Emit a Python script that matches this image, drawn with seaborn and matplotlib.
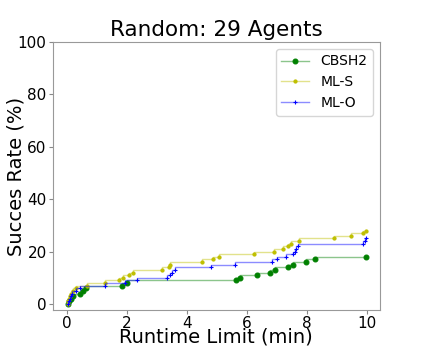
import matplotlib
matplotlib.use('Agg')
from matplotlib import pyplot as plt
import seaborn as sns

# runtime (min) at which each success happened, and success rate (%) reached
cbsh2_t = [0.02, 0.08, 0.15, 0.2, 0.45, 0.55, 0.65, 1.82, 2.0, 5.62, 5.78, 6.33,
           6.77, 6.92, 7.36, 7.54, 7.97, 8.28, 9.96]
cbsh2_v = [0, 1, 2, 3, 4, 5, 6, 7, 8, 9, 10, 11, 12, 13, 14, 15, 16, 17, 18]

mls_t = [0.02, 0.04, 0.07, 0.1, 0.14, 0.2, 0.3, 0.66, 1.27, 1.73, 1.88, 2.07, 2.21,
         3.16, 3.39, 3.42, 4.51, 4.88, 5.07, 6.24, 6.9, 7.2, 7.36, 7.46, 7.73,
         8.9, 9.46, 9.88, 9.96]
mls_v = [0, 1, 2, 3, 4, 5, 6, 7, 8, 9, 10, 11, 12, 13, 14, 15, 16, 17, 18, 19, 20,
         21, 22, 23, 24, 25, 26, 27, 28]

mlo_t = [0.02, 0.06, 0.1, 0.14, 0.18, 0.3, 0.45, 1.27, 1.93, 2.32, 3.32, 3.43, 3.5,
         3.6, 4.79, 5.6, 6.82, 7.01, 7.3, 7.52, 7.6, 7.65, 7.7, 9.88, 9.92, 9.96]
mlo_v = [0, 1, 2, 3, 4, 5, 6, 7, 8, 9, 10, 11, 12, 13, 14, 15, 16, 17, 18, 19, 20,
         21, 22, 23, 24, 25]

series = [
    ('CBSH2', cbsh2_t, cbsh2_v, (0, 0.5, 0), 'o', 3.5),
    ('ML-S', mls_t, mls_v, (0.75, 0.75, 0), '.', 4.5),
    ('ML-O', mlo_t, mlo_v, (0, 0, 1), '+', 3),
]

fig = plt.figure(figsize=(4.23, 3.46), dpi=100)
ax = fig.add_axes([0.125, 0.104, 0.773, 0.775])

for name, t, v, c, m, ms in series:
    sns.lineplot(x=t, y=v, ax=ax, drawstyle='steps-pre', color=c + (0.45,),
                 linewidth=1, marker=m, markersize=ms, markerfacecolor=c,
                 markeredgecolor=c, markeredgewidth=0.8, label=name)

ax.set_xlim(-0.47, 10.43)
ax.set_ylim(-2.3, 100)
ax.set_xticks([0, 2, 4, 6, 8, 10])
ax.set_yticks([0, 20, 40, 60, 80, 100])
ax.tick_params(labelsize=11, color='#888888', length=3, pad=1.5)
for s in ax.spines.values():
    s.set_color('#999999')

ax.set_title('Random: 29 Agents', fontsize=15.5, pad=4)
ax.set_xlabel('Runtime Limit (min)', fontsize=14)
ax.set_ylabel('Succes Rate (%)', fontsize=14)
ax.xaxis.set_label_coords(0.5, -0.064)
ax.yaxis.set_label_coords(-0.085, 0.5)
ax.legend(loc='upper right', fontsize=10)

fig.savefig('out.png', dpi=100)
